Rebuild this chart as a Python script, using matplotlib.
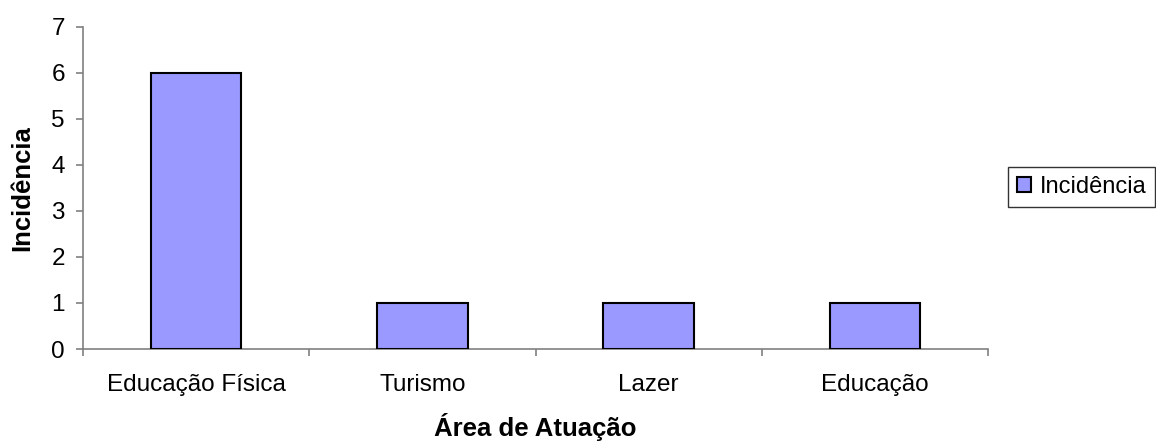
import matplotlib
matplotlib.use("Agg")
import matplotlib.pyplot as plt
import numpy as np

categories = ["Educação Física", "Turismo", "Lazer", "Educação"]
incidencia = [6, 1, 1, 1]
y_ticks = [0, 1, 2, 3, 4, 5, 6, 7]

plt.rcParams['font.family'] = ['Liberation Sans', 'DejaVu Sans']

W, H = 1156, 443
fig = plt.figure(figsize=(W / 100, H / 100), dpi=100)
ax = fig.add_axes([83 / W, 1 - 349 / H, (988 - 83) / W, (349 - 26.7) / H])

x = np.arange(len(categories))
ax.bar(x, incidencia, width=0.40, color="#9999FF", edgecolor="black",
       linewidth=1.5, label="Incidência", zorder=3)

ax.set_xlim(-0.5, len(categories) - 0.5)
ax.set_ylim(0, 7)
ax.set_yticks(y_ticks)

# category labels centred, tick marks on category boundaries
ax.set_xticks(x)
ax.set_xticklabels(categories, fontsize=17.5)
ax.set_xticks(np.arange(-0.5, len(categories)), minor=True)
ax.tick_params(axis="x", which="major", length=0, pad=18)
ax.tick_params(axis="x", which="minor", length=5, width=1.2, color="#808080", direction="out")
ax.tick_params(axis="y", length=5, width=1.2, color="#808080", direction="out",
               labelsize=17.5, pad=8)

for side in ("top", "right"):
    ax.spines[side].set_visible(False)
for side in ("left", "bottom"):
    ax.spines[side].set_color("#808080")
    ax.spines[side].set_linewidth(1.2)

fig.text(22 / W, 1 - 188 / H, "Incidência", rotation=90, ha="center", va="center",
         fontsize=18.5, fontweight="bold")
fig.text(535 / W, 1 - 436 / H, "Área de Atuação", ha="center", va="baseline",
         fontsize=18.5, fontweight="bold")

leg = fig.legend(loc="center left", bbox_to_anchor=(1008 / W, 1 - 187 / H),
                 fontsize=17, frameon=True, fancybox=False, borderaxespad=0,
                 handlelength=0.6, handleheight=0.6, handletextpad=0.35,
                 borderpad=0.38)
leg.get_frame().set_edgecolor("black")
leg.get_frame().set_linewidth(1.0)
for h in leg.legend_handles:
    h.set_linewidth(1.5)

fig.savefig("out.png", dpi=100)
